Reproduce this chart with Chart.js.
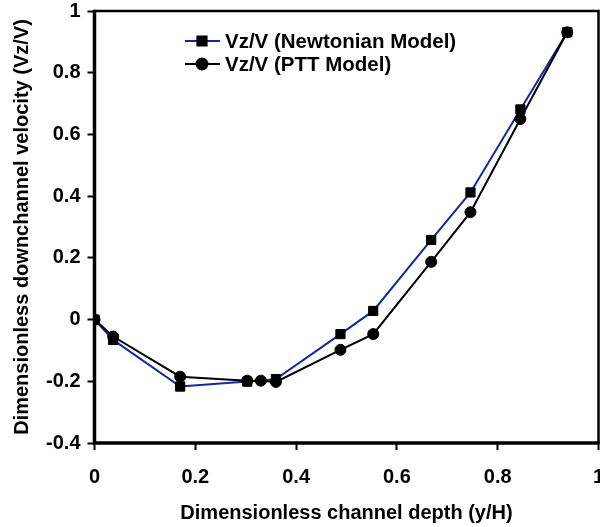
<!DOCTYPE html>
<html>
<head>
<meta charset="utf-8">
<script src="https://cdn.jsdelivr.net/npm/chart.js@4/dist/chart.umd.min.js"></script>
<style>
  html, body { margin: 0; padding: 0; background: #fff; }
  /* canvas is a few px wider than the page so the "1" tick label runs off the edge like the original */
  #wrap { width: 600px; height: 527px; overflow: hidden; }
</style>
</head>
<body>
<div id="wrap"><canvas id="chart" width="606" height="527"></canvas></div>
<script>
// depth y/H and downchannel velocity Vz/V
const depthNewtonian = [0, 0.037, 0.17, 0.303, 0.36, 0.488, 0.553, 0.668, 0.746, 0.845, 0.938]
const velNewtonian = [0, -0.066, -0.217, -0.201, -0.193, -0.047, 0.028, 0.258, 0.412, 0.681, 0.931]
const depthPTT = [0, 0.037, 0.17, 0.303, 0.33, 0.36, 0.488, 0.553, 0.668, 0.746, 0.845, 0.938]
const velPTT = [0, -0.055, -0.185, -0.198, -0.198, -0.202, -0.098, -0.047, 0.187, 0.348, 0.65, 0.931]

const xTicks = [0, 0.2, 0.4, 0.6, 0.8, 1]
const yTicks = [-0.4, -0.2, 0, 0.2, 0.4, 0.6, 0.8, 1]
const seriesNames = ['Vz/V (Newtonian Model)', 'Vz/V (PTT Model)']

const BLUE = '#0f2a9e'
const FONT = { family: "'Liberation Sans', Arial, sans-serif", size: 20, weight: 'bold' }

const toPoints = (xs, ys) => xs.map((x, i) => ({ x, y: ys[i] }))
const fmt = (v) => String(Number(v.toFixed(2)))

// box round the plot + the little legend in the top left
const framePlugin = {
  id: 'frame',
  afterDraw(chart) {
    const { ctx, chartArea: a } = chart
    ctx.save()
    ctx.strokeStyle = '#000'
    ctx.lineWidth = 2.5
    ctx.beginPath()
    ctx.moveTo(a.left, a.top)
    ctx.lineTo(a.right, a.top)
    ctx.lineTo(a.right, a.bottom)
    ctx.stroke()
    ctx.lineWidth = 3.5
    ctx.beginPath()
    ctx.moveTo(a.left, a.top - 1.25)
    ctx.lineTo(a.left, a.bottom)
    ctx.lineTo(a.right + 1.25, a.bottom)
    ctx.stroke()

    const rows = [
      { y: 41, color: BLUE, style: 'rect', r: 6.5 },
      { y: 64, color: '#000', style: 'circle', r: 5.5 },
    ]
    ctx.font = `${FONT.weight} 20.5px ${FONT.family}`
    ctx.textBaseline = 'middle'
    rows.forEach((row, i) => {
      ctx.strokeStyle = row.color
      ctx.lineWidth = 2
      ctx.beginPath()
      ctx.moveTo(185, row.y)
      ctx.lineTo(220, row.y)
      ctx.stroke()
      ctx.fillStyle = '#000'
      ctx.strokeStyle = '#000'
      Chart.helpers.drawPoint(ctx, { pointStyle: row.style, radius: row.r, borderWidth: 1 }, 202, row.y)
      ctx.fillStyle = '#000'
      ctx.fillText(seriesNames[i], 225, row.y + 1)
    })
    ctx.restore()
  },
}

new Chart(document.getElementById('chart'), {
  type: 'scatter',
  data: {
    datasets: [
      {
        label: seriesNames[0],
        data: toPoints(depthNewtonian, velNewtonian),
        showLine: true,
        borderColor: BLUE,
        borderWidth: 2,
        pointStyle: 'rect',
        pointRadius: 6.5,
        pointBackgroundColor: '#000',
        pointBorderColor: '#000',
        pointBorderWidth: 1,
        order: 2,
      },
      {
        label: seriesNames[1],
        data: toPoints(depthPTT, velPTT),
        showLine: true,
        borderColor: '#000',
        borderWidth: 2,
        pointStyle: 'circle',
        pointRadius: 5.5,
        pointBackgroundColor: '#000',
        pointBorderColor: '#000',
        pointBorderWidth: 1,
        order: 1,
      },
    ],
  },
  options: {
    responsive: false,
    animation: false,
    layout: { padding: { top: 11, right: 2, left: 0, bottom: 0 } },
    plugins: { legend: { display: false }, tooltip: { enabled: false } },
    scales: {
      x: {
        type: 'linear',
        min: 0,
        max: 1,
        afterBuildTicks: (s) => { s.ticks = xTicks.map((v) => ({ value: v })) },
        afterFit: (s) => { s.height = 84; s.paddingLeft = 0; s.paddingRight = 0 },
        ticks: { font: FONT, color: '#000', padding: 15, maxRotation: 0, callback: (v) => fmt(v) },
        grid: { drawOnChartArea: false, drawTicks: true, tickLength: 7, tickWidth: 2, color: '#000' },
        border: { display: false },
        title: { display: true, text: 'Dimensionless channel depth (y/H)', font: FONT, color: '#000', padding: { top: 0, bottom: 2 } },
      },
      y: {
        type: 'linear',
        min: -0.4,
        max: 1,
        afterBuildTicks: (s) => { s.ticks = yTicks.map((v) => ({ value: v })) },
        afterFit: (s) => { s.width = 94.5; s.paddingTop = 0; s.paddingBottom = 0 },
        ticks: { font: FONT, color: '#000', padding: 7, callback: (v) => fmt(v) },
        grid: { drawOnChartArea: false, drawTicks: true, tickLength: 7, tickWidth: 2, color: '#000' },
        border: { display: false },
        title: { display: true, text: 'Dimensionless downchannel velocity (Vz/V)', font: FONT, color: '#000', padding: { top: 10, bottom: 0 } },
      },
    },
  },
  plugins: [framePlugin],
})
</script>
</body>
</html>
